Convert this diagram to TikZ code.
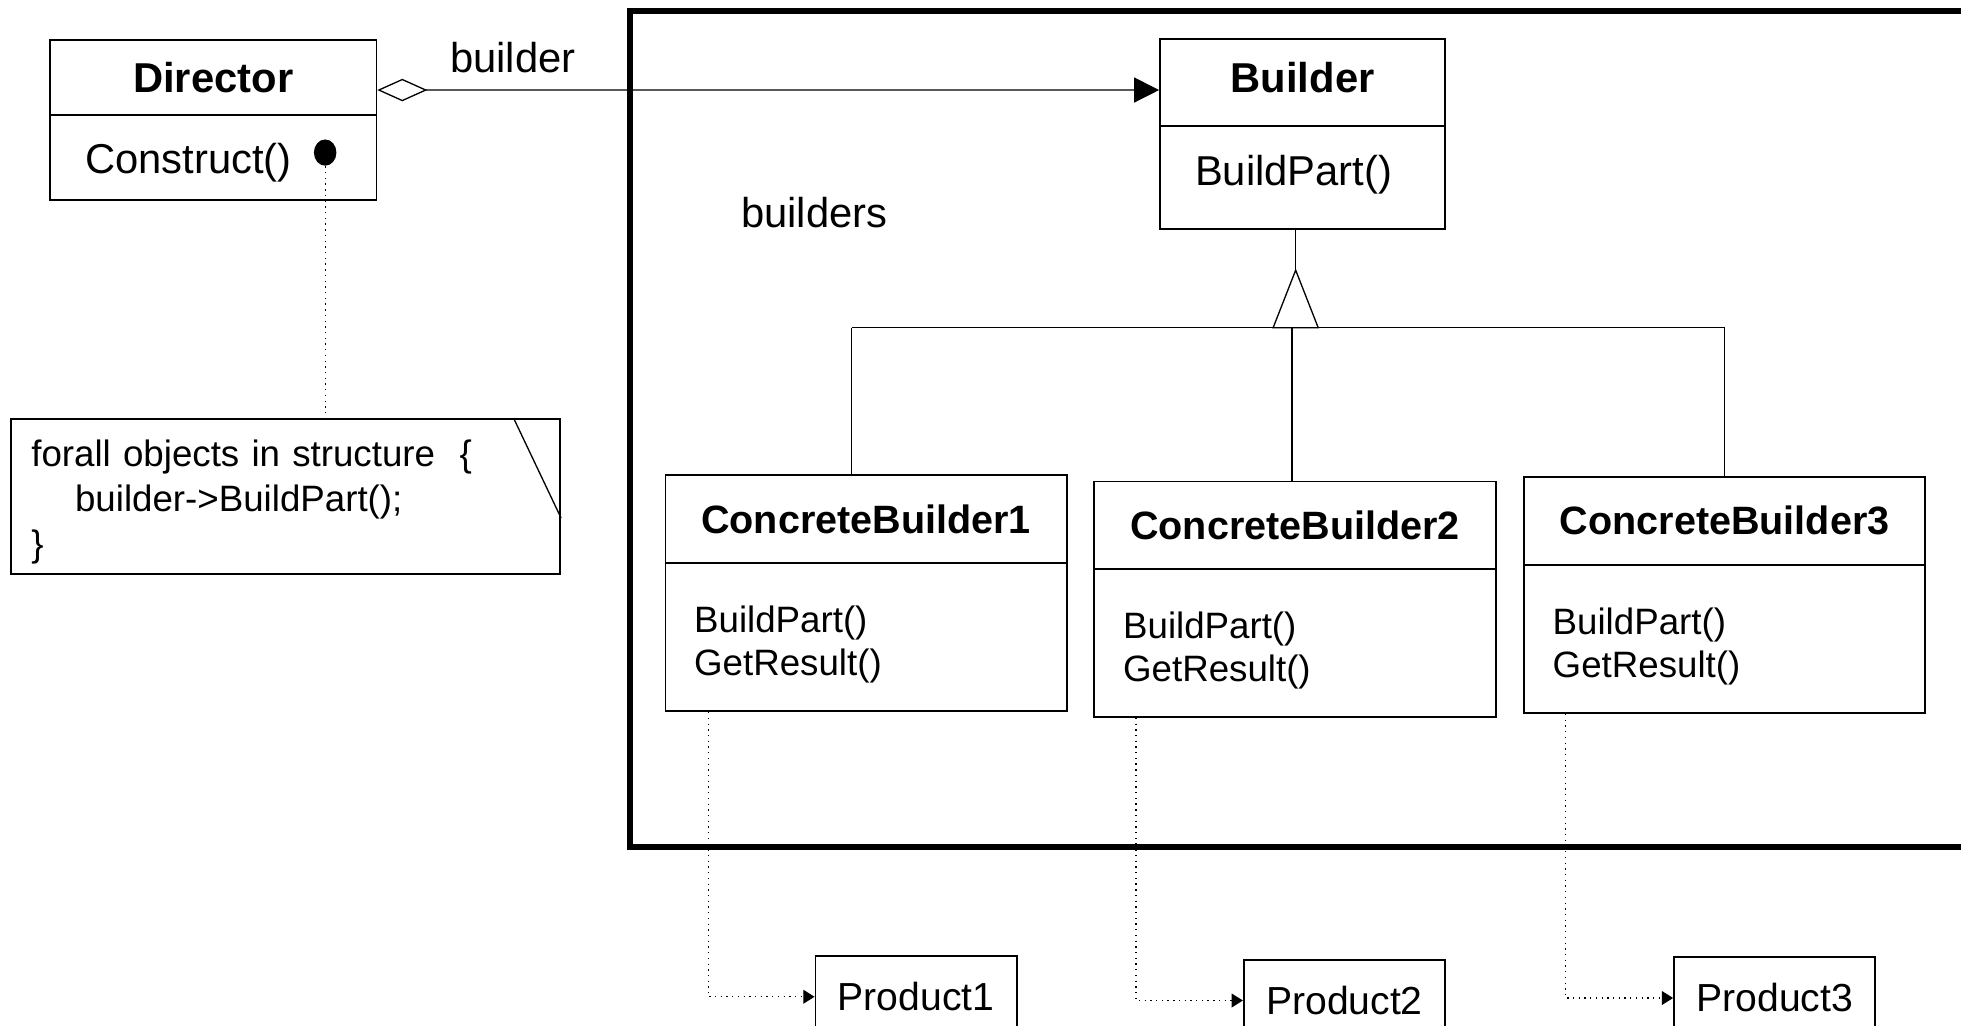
\documentclass[tikz,border=0pt]{standalone}
\usepackage{fontspec}
\setmainfont{Liberation Sans}
\usetikzlibrary{arrows.meta,shapes}

\tikzset{
  cname/.style={draw,line width=0.8pt,minimum width=6.42cm,minimum height=1.4cm,font=\fontsize{18}{21}\selectfont\bfseries},
  cops/.style={draw,line width=0.8pt,minimum width=6.42cm,minimum height=2.37cm,inner xsep=0.46cm,text width=5.5cm,align=left,font=\fontsize{16.7}{19.6}\selectfont,execute at begin node={\rule{0pt}{0.67cm}}},
  prod/.style={draw,line width=0.8pt,minimum width=3.22cm,minimum height=1.3cm,font=\fontsize{17.8}{20}\selectfont},
  dep/.style={dotted,line width=0.6pt,-{Triangle[length=0.18cm,width=0.22cm]}},
}

\begin{document}
\begin{tikzpicture}[x=0.02cm,y=-0.02cm,line width=0.6pt,font=\fontsize{19}{22}\selectfont]
\useasboundingbox (0,0) rectangle (1568,820);

% frame round the builders
\draw[line width=2.6pt] (1568,9) -- (504,9) -- (504,677) -- (1568,677);

\node[cname,minimum width=5.22cm,minimum height=1.19cm,font=\fontsize{19}{22}\selectfont\bfseries] (dir) at (170.5,62) {Director};
\node[draw,line width=0.8pt,minimum width=5.22cm,minimum height=1.36cm,inner xsep=0.56cm,text width=4.1cm,align=left,execute at begin node={\rule{0pt}{0.65cm}}] (dirop) at (170.5,126) {Construct()};
\node[ellipse,fill,inner sep=0pt,minimum width=0.36cm,minimum height=0.42cm] (dot) at (260,122) {};

\node[draw,line width=0.8pt,minimum width=8.78cm,minimum height=2.48cm,inner xsep=0.32cm,text width=8.14cm,align=left,font=\fontsize{16.7}{20.5}\selectfont,execute at begin node={\rule{0pt}{0.59cm}}] (note) at (228.5,397) {forall objects in structure\ \ \{\\\hspace*{0.7cm}builder->BuildPart();\\\}};
\draw (note.north east) ++(-38,0) -- ++(38,80);
\draw[dotted] (dot) -- (dot |- note.north);

\node[cname,minimum width=4.56cm,minimum height=1.4cm,text depth=0.16cm,font=\fontsize{19}{22}\selectfont\bfseries] (bld) at (1041.5,66) {Builder};
\node[draw,line width=0.8pt,minimum width=4.56cm,minimum height=1.64cm,inner xsep=0.56cm,text width=3.44cm,align=left,text depth=0.22cm] (bldop) at (1041.5,142) {BuildPart()};

\draw[{Diamond[open,length=0.8cm,width=0.36cm]}-{Triangle[length=0.4cm,width=0.4cm]}] ([yshift=-0.2cm]dir.east) -- ([yshift=-0.12cm]bld.west);
\node (lbl) at (410,46) {builder};
\node (lbls) at (651,170) {builders};

% inheritance
\coordinate (j1) at (681,262);
\coordinate (j2) at (1033,262);
\coordinate (j3) at (1379,262);
\coordinate (jt) at (1036,262);
\draw (j1) -- (j3);
\draw (jt) -- ++(-18,0) -- ++(18,-46) -- ++(18,46) -- cycle;
\draw ([yshift=0.92cm]jt) -- (bldop.south -| jt);

\node[cname] (cb1) at (692.5,415) {ConcreteBuilder1};
\node[cops] (cb1op) at (692.5,509.5) {BuildPart()\\GetResult()};
\node[cname] (cb2) at (1035.5,420) {ConcreteBuilder2};
\node[cops] (cb2op) at (1035.5,514) {BuildPart()\\GetResult()};
\node[cname] (cb3) at (1379,416.5) {ConcreteBuilder3};
\node[cops] (cb3op) at (1379,511) {BuildPart()\\GetResult()};

\draw (j1) -- (j1 |- cb1.north);
\draw (j2) -- (j2 |- cb2.north);
\draw (j3) -- (j3 |- cb3.north);

\node[prod] (p1) at (732.5,797) {Product1};
\node[prod] (p2) at (1075,800) {Product2};
\node[prod] (p3) at (1419,798) {Product3};

\draw[dep] ([xshift=0.7cm]cb1op.south west) |- (p1);
\draw[dep] ([xshift=0.68cm]cb2op.south west) |- (p2);
\draw[dep] ([xshift=0.68cm]cb3op.south west) |- (p3);
\end{tikzpicture}
\end{document}
